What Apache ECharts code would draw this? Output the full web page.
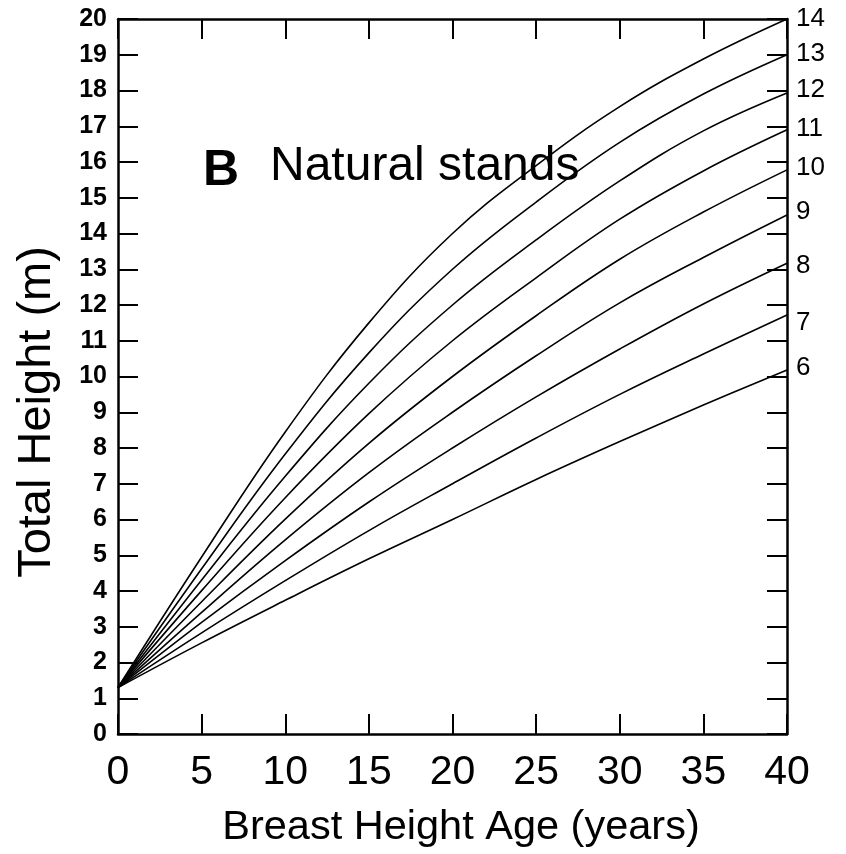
<!DOCTYPE html>
<html>
<head>
<meta charset="utf-8">
<script src="https://cdn.jsdelivr.net/npm/echarts@6/dist/echarts.min.js"></script>
<style>html,body{margin:0;padding:0;background:#fff;}#c{width:846px;height:854px;}</style>
</head>
<body>
<div id="c"></div>
<script>
const ages = [0, 5, 10, 15, 20, 25, 30, 35, 40];
const siNames = ['6', '7', '8', '9', '10', '11', '12', '13', '14'];
const si6  = [1.3, 2.55, 3.74, 4.90, 6.0, 7.12, 8.18, 9.20, 10.18];
const si7  = [1.3, 2.83, 4.29, 5.69, 7.0, 8.28, 9.50, 10.63, 11.72];
const si8  = [1.3, 3.12, 4.85, 6.49, 8.0, 9.43, 10.77, 12.03, 13.17];
const si9  = [1.3, 3.40, 5.43, 7.31, 9.0, 10.58, 12.06, 13.33, 14.52];
const si10 = [1.3, 3.70, 6.01, 8.13, 10.0, 11.70, 13.28, 14.60, 15.78];
const si11 = [1.3, 4.01, 6.61, 8.96, 11.0, 12.76, 14.40, 15.75, 16.90];
const si12 = [1.3, 4.31, 7.21, 9.81, 12.0, 13.82, 15.47, 16.87, 17.93];
const si13 = [1.3, 4.62, 7.83, 10.66, 13.0, 14.88, 16.55, 17.90, 19.00];
const si14 = [1.3, 4.95, 8.45, 11.50, 14.0, 15.90, 17.55, 18.88, 20.00];
const curves = [si6, si7, si8, si9, si10, si11, si12, si13, si14];
const xTicks = ['0', '5', '10', '15', '20', '25', '30', '35', '40'];

const chart = echarts.init(document.getElementById('c'), null, {renderer: 'canvas'});
const FONT = 'Liberation Sans, Arial, sans-serif';
const axisLine = {show: true, onZero: false, lineStyle: {color: '#000', width: 2.5}};
const tick = {show: true, inside: true, length: 20, lineStyle: {color: '#000', width: 2}};
const labelShift = [-2, 8, 3, -3, -2, -1, -3, -1, 0];

const series = curves.map((vals, i) => ({
  type: 'line',
  name: siNames[i],
  data: ages.map((a, j) => [a, vals[j]]),
  xAxisIndex: 0,
  yAxisIndex: 0,
  smooth: 0.4,
  showSymbol: false,
  symbol: 'none',
  lineStyle: {color: '#000', width: 1.6},
  clip: false,
  endLabel: {
    show: true,
    formatter: siNames[i],
    distance: 9,
    offset: [0, labelShift[i]],
    color: '#000',
    fontSize: 26,
    fontFamily: FONT
  }
}));

chart.setOption({
  animation: false,
  backgroundColor: '#fff',
  grid: {left: 118, right: 59, top: 19, bottom: 120, containLabel: false},
  xAxis: [
    {
      type: 'value', min: 0, max: 40, interval: 5,
      position: 'bottom',
      axisLine, axisTick: tick,
      splitLine: {show: false},
      axisLabel: {
        color: '#000', fontSize: 41, fontFamily: FONT, margin: 18,
        formatter: v => xTicks[Math.round(v / 5)]
      }
    },
    {
      type: 'value', min: 0, max: 40, interval: 5,
      position: 'top',
      axisLine, axisTick: tick,
      splitLine: {show: false},
      axisLabel: {show: false}
    }
  ],
  yAxis: [
    {
      type: 'value', min: 0, max: 20, interval: 1,
      position: 'left',
      axisLine, axisTick: tick,
      splitLine: {show: false},
      axisLabel: {color: '#000', fontSize: 25, fontWeight: 'bold', fontFamily: FONT, margin: 11}
    },
    {
      type: 'value', min: 0, max: 20, interval: 1,
      position: 'right',
      axisLine, axisTick: tick,
      splitLine: {show: false},
      axisLabel: {show: false}
    }
  ],
  graphic: [
    {type: 'text', left: 203, top: 146, style: {text: 'B', font: 'bold 50px ' + FONT, fill: '#000'}},
    {type: 'text', left: 270, top: 143, style: {text: 'Natural stands', font: '48px ' + FONT, fill: '#000'}},
    {type: 'text', x: 461, y: 828, style: {text: 'Breast Height Age (years)', font: '41.5px ' + FONT, fill: '#000', align: 'center', verticalAlign: 'middle'}},
    {type: 'text', x: 37, y: 412, rotation: Math.PI / 2, style: {text: 'Total Height (m)', font: '47px ' + FONT, fill: '#000', align: 'center', verticalAlign: 'middle'}}
  ],
  series
});
</script>
</body>
</html>
